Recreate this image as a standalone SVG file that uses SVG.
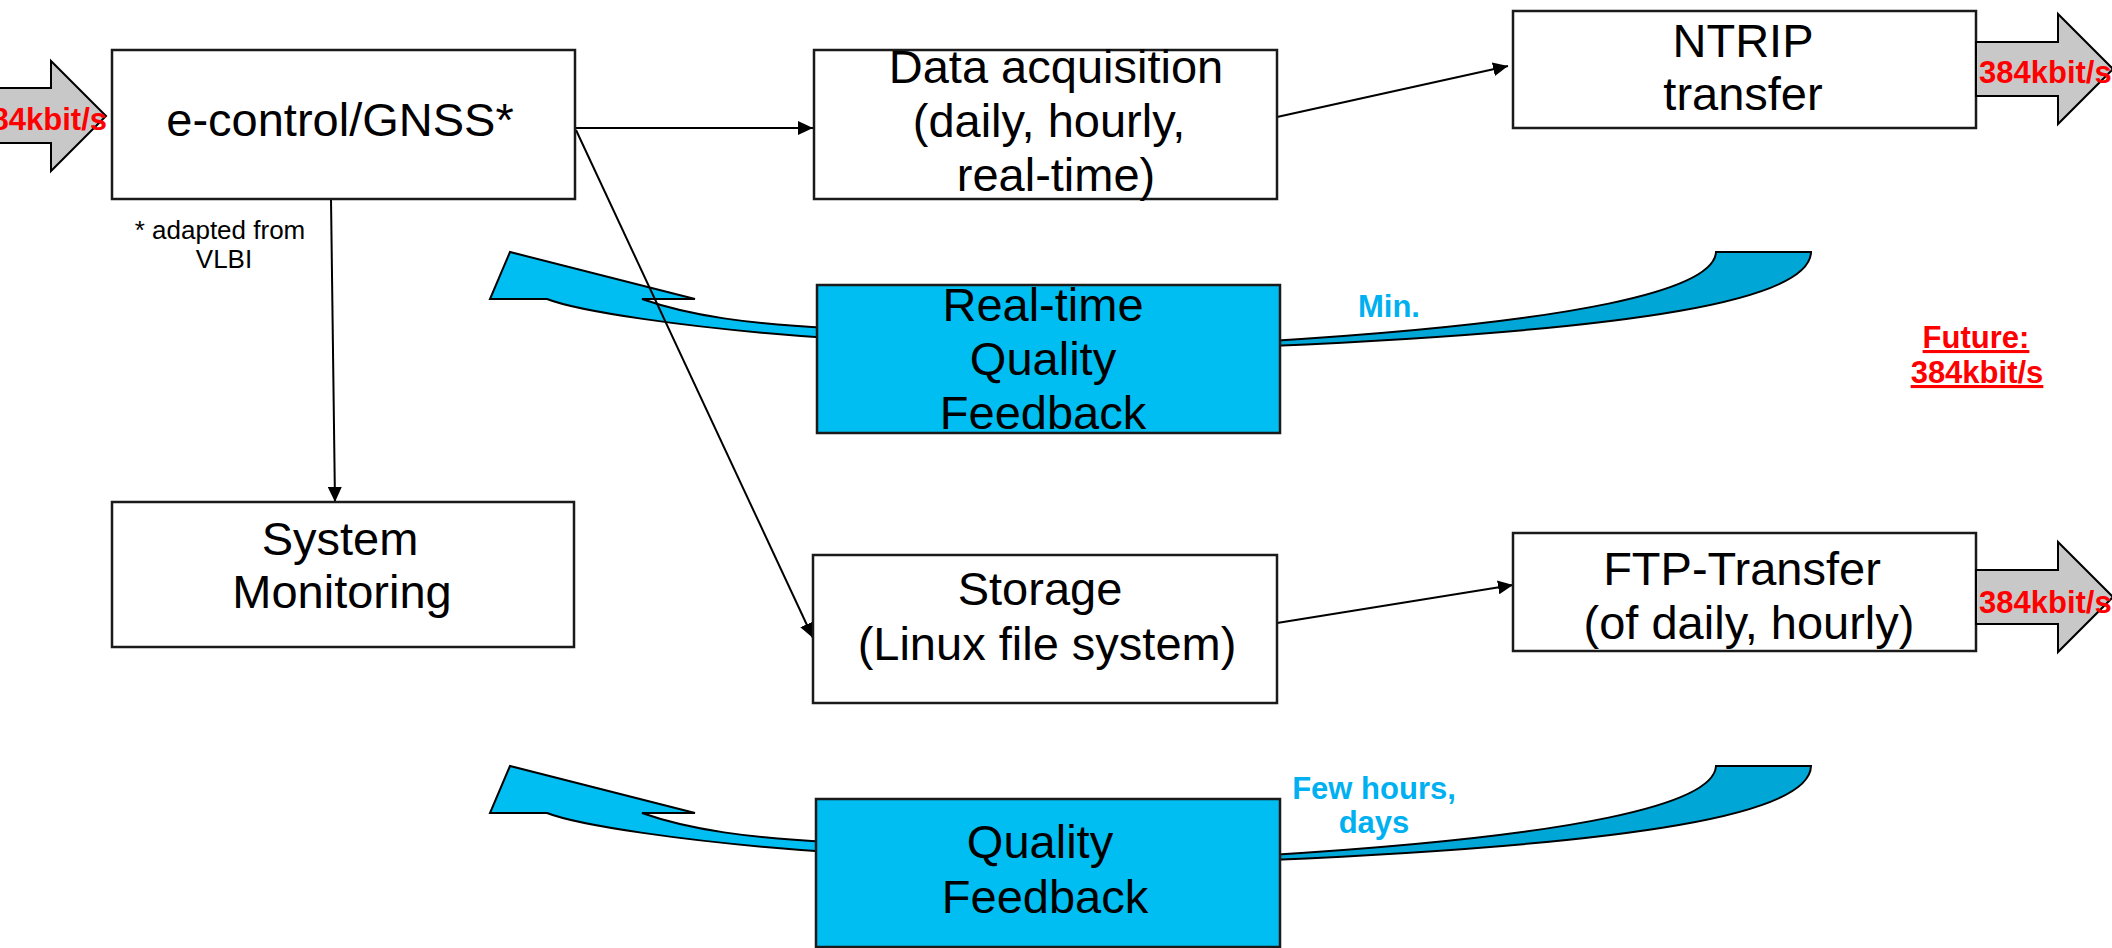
<svg xmlns="http://www.w3.org/2000/svg" width="2112" height="948" viewBox="0 0 2112 948">
<defs>
<marker id="ah" viewBox="0 0 15 14" markerWidth="15" markerHeight="14" refX="15" refY="7" orient="auto" markerUnits="userSpaceOnUse"><path d="M0,0 L15,7 L0,14 z" fill="#000"/></marker>
<g id="fbLeft"><path d="M510,252 L490,299 L547,299 C575,310 680,328 830,338 L830,328 C750,324 690,316 642,299 L695,299 Z" class="cl"/></g>
<g id="fbRight"><path d="M1716,252 L1811,252 C1810,300 1640,330 1270,346 L1270,341 C1580,322 1714,290 1716,252 Z" class="cr"/></g>
</defs>
<style>
.box{fill:#fff;stroke:#1a1a1a;stroke-width:2.5}
.bbox{fill:#00BEF2;stroke:#1a1a1a;stroke-width:2.5}
.cl{fill:#00BEF2;stroke:#000;stroke-width:2;stroke-linejoin:miter}
.cr{fill:#00A6D6;stroke:#000;stroke-width:2}
.ga{fill:#C8C8C8;stroke:#000;stroke-width:2}
.t{font-family:"Liberation Sans",Arial,sans-serif;font-size:47px;fill:#000;text-anchor:middle}
.s{font-family:"Liberation Sans",Arial,sans-serif;font-size:26px;fill:#000;text-anchor:middle}
.r{font-family:"Liberation Sans",Arial,sans-serif;font-size:31px;font-weight:bold;fill:#FF0000}
.b{font-family:"Liberation Sans",Arial,sans-serif;font-size:31px;font-weight:bold;fill:#00B0F0}
.c{stroke:#000;stroke-width:2;fill:none}
</style>
<rect width="2112" height="948" fill="#fff"/>

<g id="feedback-arrows">
<use href="#fbLeft"/>
<use href="#fbRight"/>
<use href="#fbLeft" transform="translate(0,514)"/>
<use href="#fbRight" transform="translate(0,514)"/>
</g>

<g id="connectors">
<line class="c" x1="576" y1="128" x2="813" y2="128" marker-end="url(#ah)"/>
<line class="c" x1="1277" y1="117" x2="1508" y2="66" marker-end="url(#ah)"/>
<line class="c" x1="1277" y1="623" x2="1513" y2="585" marker-end="url(#ah)"/>
<line class="c" x1="576" y1="130" x2="813" y2="638" stroke-width="1.6" marker-end="url(#ah)"/>
<line class="c" x1="331" y1="199" x2="335" y2="502" stroke-width="1.6" marker-end="url(#ah)"/>
</g>

<g id="input-arrow">
<polygon class="ga" points="-60,88 51,88 51,61 106,116 51,171 51,143 -60,143"/>
<text class="r" x="107" y="130" text-anchor="end">384kbit/s</text>
</g>

<g id="econtrol">
<rect class="box" x="112" y="50" width="463" height="149"/>
<text class="t" x="340" y="136">e-control/GNSS*</text>
</g>
<g id="note">
<text class="s" x="220" y="239">* adapted from</text>
<text class="s" x="224" y="268">VLBI</text>
</g>

<g id="data-acquisition">
<rect class="box" x="814" y="50" width="463" height="149"/>
<text class="t" x="1056" y="83">Data acquisition</text>
<text class="t" x="1049" y="137">(daily, hourly,</text>
<text class="t" x="1056" y="191">real-time)</text>
</g>

<g id="ntrip">
<rect class="box" x="1513" y="11" width="463" height="117"/>
<text class="t" x="1743" y="57">NTRIP</text>
<text class="t" x="1743" y="110">transfer</text>
</g>
<g id="ntrip-out">
<polygon class="ga" points="1976,42 2058,42 2058,14 2113,69 2058,124 2058,96 1976,96"/>
<text class="r" x="1979" y="83">384kbit/s</text>
</g>

<g id="realtime-feedback">
<rect class="bbox" x="817" y="285" width="463" height="148"/>
<text class="t" x="1043" y="321">Real-time</text>
<text class="t" x="1043" y="375">Quality</text>
<text class="t" x="1043" y="429">Feedback</text>
</g>
<text class="b" x="1358" y="317">Min.</text>

<g id="future">
<text class="r" x="1976" y="348" text-anchor="middle" text-decoration="underline">Future:</text>
<text class="r" x="1977" y="383" text-anchor="middle" text-decoration="underline">384kbit/s</text>
</g>

<g id="system-monitoring">
<rect class="box" x="112" y="502" width="462" height="145"/>
<text class="t" x="340" y="555">System</text>
<text class="t" x="342" y="608">Monitoring</text>
</g>

<g id="storage">
<rect class="box" x="813" y="555" width="464" height="148"/>
<text class="t" x="1040" y="605">Storage</text>
<text class="t" x="1047" y="660">(Linux file system)</text>
</g>

<g id="ftp">
<rect class="box" x="1513" y="533" width="463" height="118"/>
<text class="t" x="1742" y="585">FTP-Transfer</text>
<text class="t" x="1749" y="639">(of daily, hourly)</text>
</g>
<g id="ftp-out">
<polygon class="ga" points="1976,570 2058,570 2058,542 2113,597 2058,652 2058,624 1976,624"/>
<text class="r" x="1979" y="613">384kbit/s</text>
</g>

<g id="quality-feedback">
<rect class="bbox" x="816" y="799" width="464" height="148"/>
<text class="t" x="1040" y="858">Quality</text>
<text class="t" x="1045" y="913">Feedback</text>
</g>
<text class="b" x="1374" y="799" text-anchor="middle">Few hours,</text>
<text class="b" x="1374" y="833" text-anchor="middle">days</text>
</svg>
